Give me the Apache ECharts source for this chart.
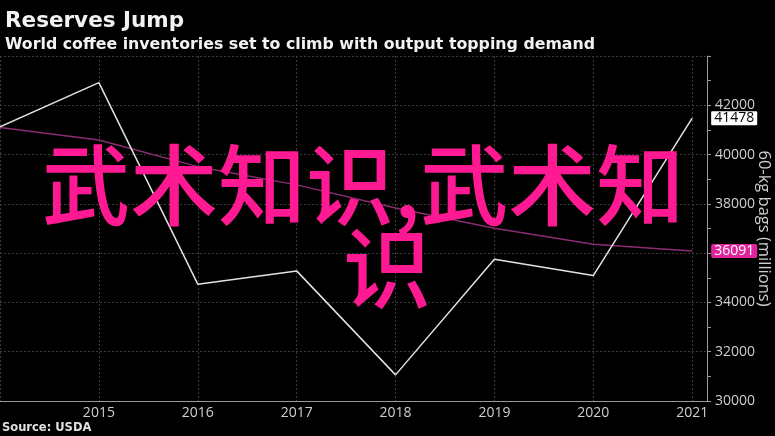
<!DOCTYPE html>
<html>
<head>
<meta charset="utf-8">
<script src="https://cdn.jsdelivr.net/npm/echarts@6/dist/echarts.min.js"></script>
<style>
html,body{margin:0;padding:0;background:#000;}
#chart{width:775px;height:436px;}
</style>
</head>
<body>
<div id="chart"></div>
<script>
const years = [2014, 2015, 2016, 2017, 2018, 2019, 2020, 2021];
const inventories = [41130, 42920, 34740, 35280, 31060, 35750, 35090, 41478];
const trend = [41100, 40590, 39510, 38770, 37830, 37010, 36360, 36091];
const yTicks = [30000, 32000, 34000, 36000, 38000, 40000, 42000];
const titleText = 'Reserves Jump';
const subtitleText = 'World coffee inventories set to climb with output topping demand';
const sourceText = 'Source: USDA';
const axisName = '60-kg bags (millions)';
const overlayLine1 = '武术知识,武术知';
const overlayLine2 = '识';

const chart = echarts.init(document.getElementById('chart'));
const pairs = arr => years.map((y, i) => [y, arr[i]]);
const labelFont = 'Open Sans, Liberation Sans, sans-serif';

chart.setOption({
  backgroundColor: '#000',
  animation: false,
  title: {
    text: titleText,
    subtext: subtitleText,
    left: 0,
    top: 5,
    itemGap: 5,
    textStyle: { color: '#f2f2f2', fontSize: 21.5, fontWeight: 'bold', fontFamily: 'DejaVu Sans' },
    subtextStyle: { color: '#f2f2f2', fontSize: 15.8, fontWeight: 'bold', fontFamily: 'DejaVu Sans' }
  },
  grid: { left: 0, right: 68, top: 56, bottom: 35, containLabel: false, outerBoundsMode: 'none' },
  xAxis: {
    type: 'value',
    min: 2014,
    max: 2021.15,
    interval: 1,
    axisLine: { show: true, lineStyle: { color: '#9a9a9a', width: 1 } },
    axisTick: { show: false },
    axisLabel: {
      color: '#cfcfcf', fontSize: 14, fontFamily: labelFont, margin: 5,
      formatter: v => (Number.isInteger(v) && v > 2014) ? String(v) : ''
    },
    splitLine: { show: true, lineStyle: { color: '#3a3a3a', type: [2, 2] } }
  },
  yAxis: {
    type: 'value',
    position: 'right',
    min: 30000,
    max: 44000,
    interval: 2000,
    axisLine: { show: true, lineStyle: { color: '#9a9a9a', width: 1 } },
    axisTick: { show: true, length: 4, lineStyle: { color: '#9a9a9a' } },
    minorTick: { show: true, splitNumber: 2, length: 4, lineStyle: { color: '#9a9a9a' } },
    axisLabel: {
      color: '#cfcfcf', fontSize: 14, fontFamily: labelFont, margin: 8,
      formatter: v => yTicks.includes(v) ? String(v) : ''
    },
    splitLine: { show: true, lineStyle: { color: '#3a3a3a', type: [2, 2] } },
    name: axisName,
    nameLocation: 'middle',
    nameRotate: -90,
    nameGap: 48,
    nameMoveOverlap: false,
    nameTextStyle: { color: '#cfcfcf', fontSize: 16.5, fontFamily: labelFont }
  },
  series: [
    {
      type: 'line',
      data: pairs(trend),
      symbol: 'none',
      lineStyle: { color: '#8a2c72', width: 1.5 },
      z: 2,
      endLabel: {
        show: true,
        formatter: p => String(p.value[1]),
        backgroundColor: '#e0259c',
        color: '#fff',
        fontSize: 14,
        fontFamily: labelFont,
        padding: [0, 3],
        borderRadius: 2,
        distance: 19
      }
    },
    {
      type: 'line',
      data: pairs(inventories),
      symbol: 'none',
      lineStyle: { color: '#e2e2e2', width: 1.5 },
      z: 3,
      endLabel: {
        show: true,
        formatter: p => String(p.value[1]),
        backgroundColor: '#fff',
        color: '#000',
        fontSize: 14,
        fontFamily: labelFont,
        padding: [0, 3],
        borderRadius: 1,
        distance: 19
      }
    }
  ],
  graphic: [
    {
      type: 'text', left: 2, top: 422, z: 10,
      style: { text: sourceText, fill: '#e0e0e0', font: 'bold 11.5px DejaVu Sans' }
    },
    {
      type: 'text', x: 42, y: 185, z: 100,
      style: {
        text: overlayLine1, fill: '#ff1a94',
        font: '500 88px "Noto Sans CJK SC"', textAlign: 'left', textVerticalAlign: 'middle'
      }
    },
    {
      type: 'text', x: 387, y: 268, z: 100,
      style: {
        text: overlayLine2, fill: '#ff1a94',
        font: '500 88px "Noto Sans CJK SC"', textAlign: 'center', textVerticalAlign: 'middle'
      }
    }
  ]
});
</script>
</body>
</html>
